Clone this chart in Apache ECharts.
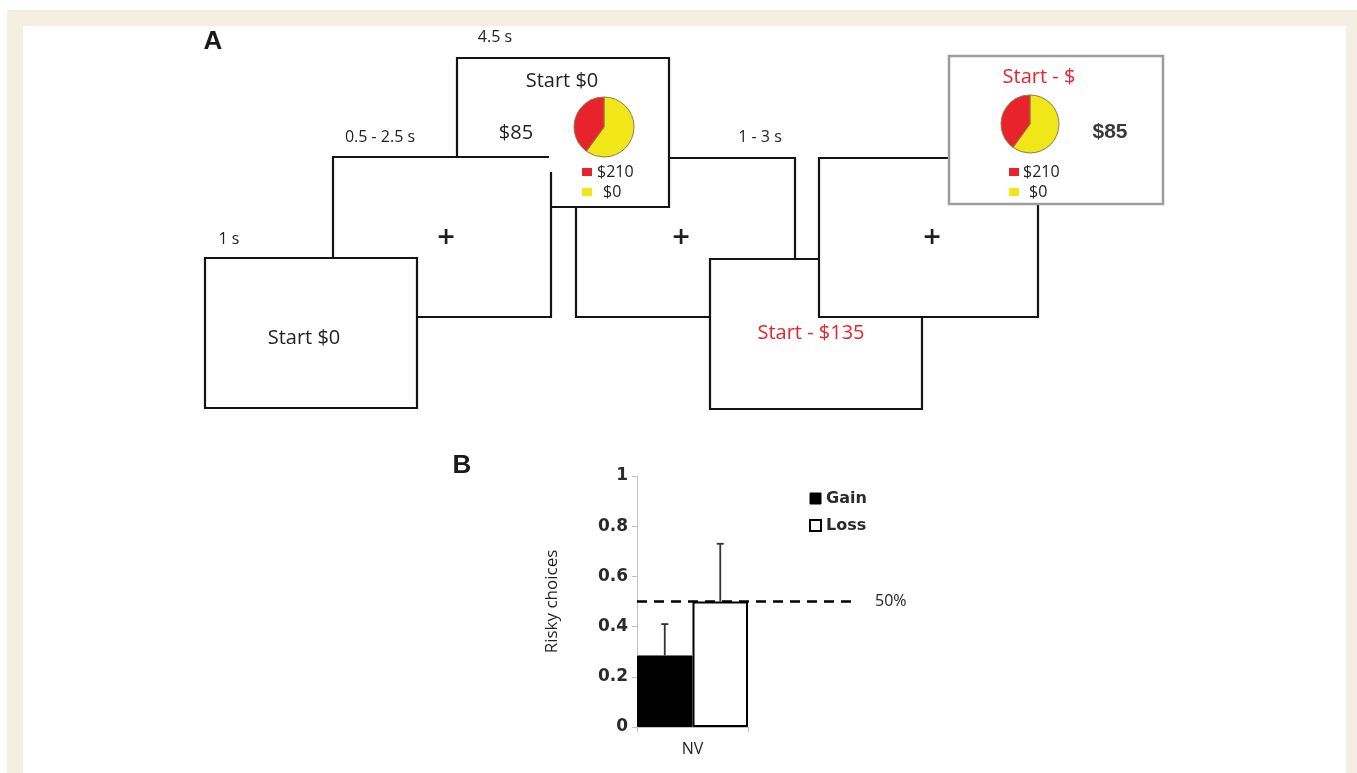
<!DOCTYPE html>
<html>
<head>
<meta charset="utf-8">
<script src="https://cdn.jsdelivr.net/npm/echarts@6/dist/echarts.min.js"></script>
<style>
html,body{margin:0;padding:0;background:#fff;}
#chart{width:1357px;height:773px;}
</style>
</head>
<body>
<div id="chart"></div>
<script>
// ---- Panel B data ----
const categories = ['NV'];
const gainMean = [0.285];
const lossMean = [0.5];
const gainUpper = [0.41];
const lossUpper = [0.73];
const chanceLevel = 0.5;
const chanceLabel = '50%';
const seriesNames = ['Gain', 'Loss'];
const yAxisTitle = 'Risky choices';

// ---- Panel A lottery (pie) data ----
const lotteryNames = ['$0', '$210'];
const lotteryShares = [60, 40];
const timingLabels = ['1 s', '0.5 - 2.5 s', '4.5 s', '1 - 3 s'];

const RED = '#e9232b';
const YEL = '#f1e618';
const FONT = '"Open Sans", "Noto Sans", sans-serif';
const LINE = '#141414';

const chart = echarts.init(document.getElementById('chart'), null, {renderer: 'canvas'});

function box(x, y, w, h, z, stroke, lw) {
  return {type: 'rect', z: z, silent: true,
    shape: {x: x, y: y, width: w, height: h},
    style: {fill: '#fff', stroke: stroke || LINE, lineWidth: lw || 2.2}};
}
function txt(x, y, s, size, color, align, weight, family, z) {
  return {type: 'text', z: z || 40, silent: true, x: x, y: y,
    style: {text: s, fill: color || '#222', font: (weight || 'normal') + ' ' + size + 'px ' + (family || FONT),
      textAlign: align || 'center', textVerticalAlign: 'middle', textBaseline: 'middle'}};
}
function sq(x, y, color) {
  return {type: 'rect', z: 40, silent: true, shape: {x: x, y: y, width: 10, height: 8}, style: {fill: color}};
}

const graphics = [
  // beige frame
  {type: 'rect', z: 0, silent: true, shape: {x: 7, y: 10, width: 1350, height: 16}, style: {fill: '#f4efe1'}},
  {type: 'rect', z: 0, silent: true, shape: {x: 7, y: 10, width: 16, height: 763}, style: {fill: '#f4efe1'}},
  {type: 'rect', z: 0, silent: true, shape: {x: 1346, y: 10, width: 11, height: 763}, style: {fill: '#f4efe1'}},
  // boxes, back to front
  box(576, 158, 219, 159, 1),
  box(457, 58, 212, 149, 2),
  box(333, 157, 218, 160, 3),
  box(205, 258, 212, 150, 4),
  {type: 'rect', z: 5, silent: true, shape: {x: 549, y: 151, width: 14, height: 21}, style: {fill: '#fff'}},
  box(710, 259, 212, 150, 6),
  box(819, 158, 219, 159, 7),
  box(949, 56, 214, 148, 8, '#9d9d9d', 2.5),
  // labels
  txt(213, 42, 'A', 26, '#1a1a1a', 'center', 'bold', '"Liberation Sans", Arial, sans-serif'),
  txt(462, 466, 'B', 26, '#1a1a1a', 'center', 'bold', '"Liberation Sans", Arial, sans-serif'),
  txt(229, 239, timingLabels[0], 16),
  txt(380, 137, timingLabels[1], 16),
  txt(495, 37, timingLabels[2], 16),
  txt(760, 137, timingLabels[3], 16),
  txt(304, 338, 'Start $0', 20),
  txt(446, 238, '+', 31, '#1e1e1e', 'center', '600'),
  txt(681, 238, '+', 31, '#1e1e1e', 'center', '600'),
  txt(932, 238, '+', 31, '#1e1e1e', 'center', '600'),
  txt(562, 81, 'Start $0', 20),
  txt(516, 133, '$85', 20),
  sq(582, 168, RED), txt(597, 172, lotteryNames[1], 16, '#222', 'left'),
  sq(582, 188, YEL), txt(603, 192, lotteryNames[0], 16, '#222', 'left'),
  txt(811, 333, 'Start - $135', 20, RED),
  txt(1039, 77, 'Start - $', 20, RED),
  txt(1110, 132, '$85', 21, '#3a3a3a', 'center', 'bold', '"Liberation Sans", Arial, sans-serif'),
  sq(1009, 168, RED), txt(1023, 172, lotteryNames[1], 16, '#222', 'left'),
  sq(1009, 188, YEL), txt(1029, 192, lotteryNames[0], 16, '#222', 'left')
];

function pieSeries(center, r) {
  return {
    type: 'pie', z: 20, silent: true, center: center, radius: r, startAngle: 90, clockwise: true,
    label: {show: false}, labelLine: {show: false}, emphasis: {disabled: true}, animation: false,
    itemStyle: {borderColor: '#8c7c4c', borderWidth: 1},
    data: lotteryNames.map((n, i) => ({name: 'lottery ' + n, value: lotteryShares[i],
      itemStyle: {color: i === 0 ? YEL : RED}}))
  };
}

const errData = [
  [0, gainMean[0], gainUpper[0], -1],
  [0, lossMean[0], lossUpper[0], 1]
];

const tickFont = {fontFamily: '"DejaVu Sans", sans-serif', fontWeight: 'bold', fontSize: 17, color: '#2a2a2a'};

const option = {
  backgroundColor: '#ffffff',
  animation: false,
  graphic: {elements: graphics},
  legend: {
    data: [
      {name: seriesNames[0], itemStyle: {color: '#000', borderColor: '#000', borderWidth: 1}},
      {name: seriesNames[1], itemStyle: {color: '#fff', borderColor: '#000', borderWidth: 2}}
    ],
    orient: 'vertical', left: 809, top: 490, itemWidth: 11, itemHeight: 11, itemGap: 10, padding: 0,
    icon: 'rect', selectedMode: false,
    textStyle: {fontFamily: '"DejaVu Sans", sans-serif', fontWeight: 'bold', fontSize: 16, color: '#2a2a2a', lineHeight: 17}
  },
  grid: [
    {left: 637, top: 476, width: 111, height: 251},
    {left: 637, top: 476, width: 216, height: 251}
  ],
  xAxis: [
    {type: 'category', gridIndex: 0, data: categories,
      axisLine: {lineStyle: {color: '#c2c2c2', width: 1}},
      axisTick: {show: true, length: 5, lineStyle: {color: '#c2c2c2'}},
      axisLabel: {fontFamily: FONT, fontSize: 16, color: '#222', margin: 14}},
    {type: 'value', gridIndex: 1, min: 0, max: 1, show: false}
  ],
  yAxis: [
    {type: 'value', gridIndex: 0, min: 0, max: 1, interval: 0.2,
      name: yAxisTitle, nameLocation: 'middle', nameRotate: 90, nameGap: 76,
      nameTextStyle: {fontFamily: FONT, fontSize: 17, color: '#222'},
      axisLine: {show: true, lineStyle: {color: '#c2c2c2', width: 1}},
      axisTick: {show: true, length: 5, lineStyle: {color: '#c2c2c2'}},
      splitLine: {show: false},
      axisLabel: Object.assign({margin: 9}, tickFont)},
    {type: 'value', gridIndex: 1, min: 0, max: 1, show: false}
  ],
  series: [
    {name: seriesNames[0], type: 'bar', xAxisIndex: 0, yAxisIndex: 0, data: gainMean,
      barGap: '0%', barCategoryGap: '0%', z: 2,
      itemStyle: {color: '#000', borderColor: '#000', borderWidth: 1}},
    {name: seriesNames[1], type: 'bar', xAxisIndex: 0, yAxisIndex: 0, data: lossMean,
      barGap: '0%', barCategoryGap: '0%', z: 2,
      itemStyle: {color: '#fff', borderColor: '#000', borderWidth: 2}},
    {type: 'custom', xAxisIndex: 0, yAxisIndex: 0, z: 3, silent: true, data: errData,
      encode: {x: 0, y: [1, 2]},
      renderItem: function (params, api) {
        const idx = api.value(0), mean = api.value(1), upper = api.value(2), off = api.value(3);
        const bw = api.size([1, 0])[0];
        const p0 = api.coord([idx, mean]);
        const p1 = api.coord([idx, upper]);
        const x = p0[0] + off * bw / 4;
        const st = {stroke: '#333', lineWidth: 1.8};
        return {type: 'group', children: [
          {type: 'line', shape: {x1: x, y1: p0[1], x2: x, y2: p1[1]}, style: st},
          {type: 'line', shape: {x1: x - 3.5, y1: p1[1], x2: x + 3.5, y2: p1[1]}, style: st}
        ]};
      }},
    {type: 'line', xAxisIndex: 1, yAxisIndex: 1, z: 5, silent: true, symbol: 'none',
      data: [[0, chanceLevel], [1, chanceLevel]],
      lineStyle: {color: '#000', width: 2.5, type: [10, 7]},
      endLabel: {show: true, formatter: chanceLabel, distance: 22, fontFamily: FONT, fontSize: 16, color: '#222'}},
    pieSeries([604, 127], 30),
    pieSeries([1030, 124], 29)
  ]
};
chart.setOption(option);
</script>
</body>
</html>
